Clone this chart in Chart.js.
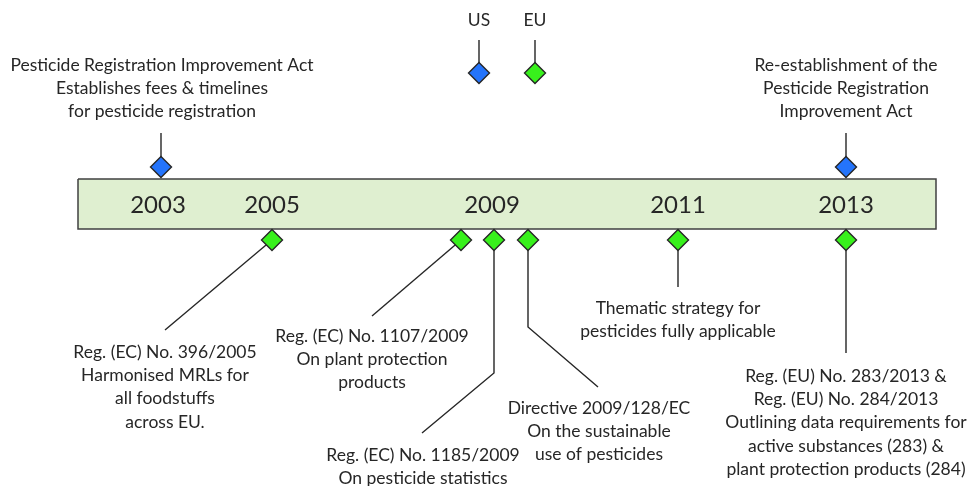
<!DOCTYPE html>
<html>
<head>
<meta charset="utf-8">
<script src="https://cdn.jsdelivr.net/npm/chart.js@4.4.1/dist/chart.umd.min.js"></script>
<style>
  html, body { margin: 0; padding: 0; background: #ffffff; }
  #wrap { width: 968px; height: 486px; }
</style>
</head>
<body>
<div id="wrap"><canvas id="c" width="968" height="486"></canvas></div>
<script>
// ---------- DATA ----------
const yearLabels = ['2003', '2005', '2009', '2011', '2013'];
const legendRegions = ['US', 'EU'];
const eventRegions = ['US', 'US', 'EU', 'EU', 'EU', 'EU', 'EU', 'EU'];
const eventYears = [2003, 2013, 2005, 2009, 2009, 2009, 2011, 2013];
const eventTexts = [
  ['Pesticide Registration Improvement Act', 'Establishes fees & timelines', 'for pesticide registration'],
  ['Re-establishment of the', 'Pesticide Registration', 'Improvement Act'],
  ['Reg. (EC) No. 396/2005', 'Harmonised MRLs for', 'all foodstuffs', 'across EU.'],
  ['Reg. (EC) No. 1107/2009', 'On plant protection', 'products'],
  ['Reg. (EC) No. 1185/2009', 'On pesticide statistics'],
  ['Directive 2009/128/EC', 'On the sustainable', 'use of pesticides'],
  ['Thematic strategy for', 'pesticides fully applicable'],
  ['Reg. (EU) No. 283/2013 &', 'Reg. (EU) No. 284/2013', 'Outlining data requirements for', 'active substances (283) &', 'plant protection products (284)']
];

// ---------- LAYOUT (positions on the hidden layout scales) ----------
const layout = {
  band: { x0: 78, x1: 936, y0: 179, y1: 229 },
  yearX: [158, 272, 492, 678, 846],
  yearY: 205,
  legendX: [479, 535],
  legendTextY: 20,
  legendLineTop: 40,
  legendMarkerY: 73,
  events: [
    { mx: 161, my: 167, path: [[161, 133]], tx: 162, ty: 65 },
    { mx: 846, my: 167, path: [[846, 133]], tx: 846, ty: 65 },
    { mx: 272, my: 240, path: [[165, 330]], tx: 165, ty: 352 },
    { mx: 461, my: 240, path: [[372, 316]], tx: 372, ty: 336 },
    { mx: 494, my: 240, path: [[494, 373], [422, 433]], tx: 423, ty: 455 },
    { mx: 528, my: 240, path: [[528, 327], [598, 387]], tx: 599, ty: 408 },
    { mx: 678, my: 240, path: [[678, 287]], tx: 678, ty: 308 },
    { mx: 846, my: 240, path: [[846, 353]], tx: 846, ty: 376 }
  ],
  lineHeight: 23.3
};

// ---------- STYLE ----------
const regionColors = { US: '#2474fb', EU: '#38f01c' };
const inkColor = '#262626';
const bandFill = '#dfefd0';
const bandBorder = '#404040';
const textFont = '17.5px Lato';
const yearFont = '24px Lato';

// ---------- BUILD DATASETS ----------
const datasets = [];
const b = layout.band;
datasets.push({
  type: 'line', data: [{ x: b.x0, y: b.y0 }, { x: b.x1, y: b.y0 }],
  borderWidth: 0, pointRadius: 0, fill: '+1', backgroundColor: bandFill, order: 20
});
datasets.push({
  type: 'line', data: [{ x: b.x0, y: b.y1 }, { x: b.x1, y: b.y1 }],
  borderWidth: 0, pointRadius: 0, fill: false, order: 20
});
datasets.push({
  type: 'line',
  data: [{ x: b.x0, y: b.y0 }, { x: b.x1, y: b.y0 }, { x: b.x1, y: b.y1 }, { x: b.x0, y: b.y1 }, { x: b.x0, y: b.y0 }],
  borderColor: bandBorder, borderWidth: 1.5, pointRadius: 0, fill: false, tension: 0, order: 15
});

// connector lines
layout.events.forEach(ev => {
  const pts = [{ x: ev.mx, y: ev.my }].concat(ev.path.map(p => ({ x: p[0], y: p[1] })));
  datasets.push({ type: 'line', data: pts, borderColor: inkColor, borderWidth: 1.4, pointRadius: 0, fill: false, tension: 0, order: 5 });
});
layout.legendX.forEach(x => {
  datasets.push({ type: 'line', data: [{ x: x, y: layout.legendLineTop }, { x: x, y: layout.legendMarkerY }], borderColor: inkColor, borderWidth: 1.4, pointRadius: 0, fill: false, order: 5 });
});

// markers
const markerPts = [];
const markerColors = [];
layout.events.forEach((ev, i) => { markerPts.push({ x: ev.mx, y: ev.my }); markerColors.push(regionColors[eventRegions[i]]); });
layout.legendX.forEach((x, i) => { markerPts.push({ x: x, y: layout.legendMarkerY }); markerColors.push(regionColors[legendRegions[i]]); });
datasets.push({
  type: 'scatter', data: markerPts, pointStyle: 'rectRot', pointRadius: 10.5,
  pointBackgroundColor: markerColors, pointBorderColor: inkColor, pointBorderWidth: 1.4, order: 1
});

// ---------- TEXT PLUGIN ----------
const textPlugin = {
  id: 'timelineText',
  afterDatasetsDraw(chart) {
    const ctx = chart.ctx, xs = chart.scales.x, ys = chart.scales.y;
    ctx.save();
    ctx.fillStyle = inkColor;
    ctx.textAlign = 'center';
    ctx.textBaseline = 'middle';
    ctx.font = yearFont;
    yearLabels.forEach((t, i) => ctx.fillText(t, xs.getPixelForValue(layout.yearX[i]), ys.getPixelForValue(layout.yearY)));
    ctx.font = textFont;
    legendRegions.forEach((t, i) => ctx.fillText(t, xs.getPixelForValue(layout.legendX[i]), ys.getPixelForValue(layout.legendTextY)));
    eventTexts.forEach((lines, i) => {
      const ev = layout.events[i];
      lines.forEach((ln, j) => {
        ctx.fillText(ln, xs.getPixelForValue(ev.tx), ys.getPixelForValue(ev.ty + j * layout.lineHeight));
      });
    });
    ctx.restore();
  }
};

new Chart(document.getElementById('c'), {
  type: 'scatter',
  data: { datasets },
  options: {
    responsive: false,
    animation: false,
    devicePixelRatio: 1,
    layout: { padding: 0, autoPadding: false },
    plugins: { legend: { display: false }, tooltip: { enabled: false } },
    elements: { line: { tension: 0 } },
    scales: {
      x: { type: 'linear', min: 0, max: 968, display: false },
      y: { type: 'linear', min: 0, max: 486, reverse: true, display: false }
    }
  },
  plugins: [textPlugin]
});
</script>
</body>
</html>
